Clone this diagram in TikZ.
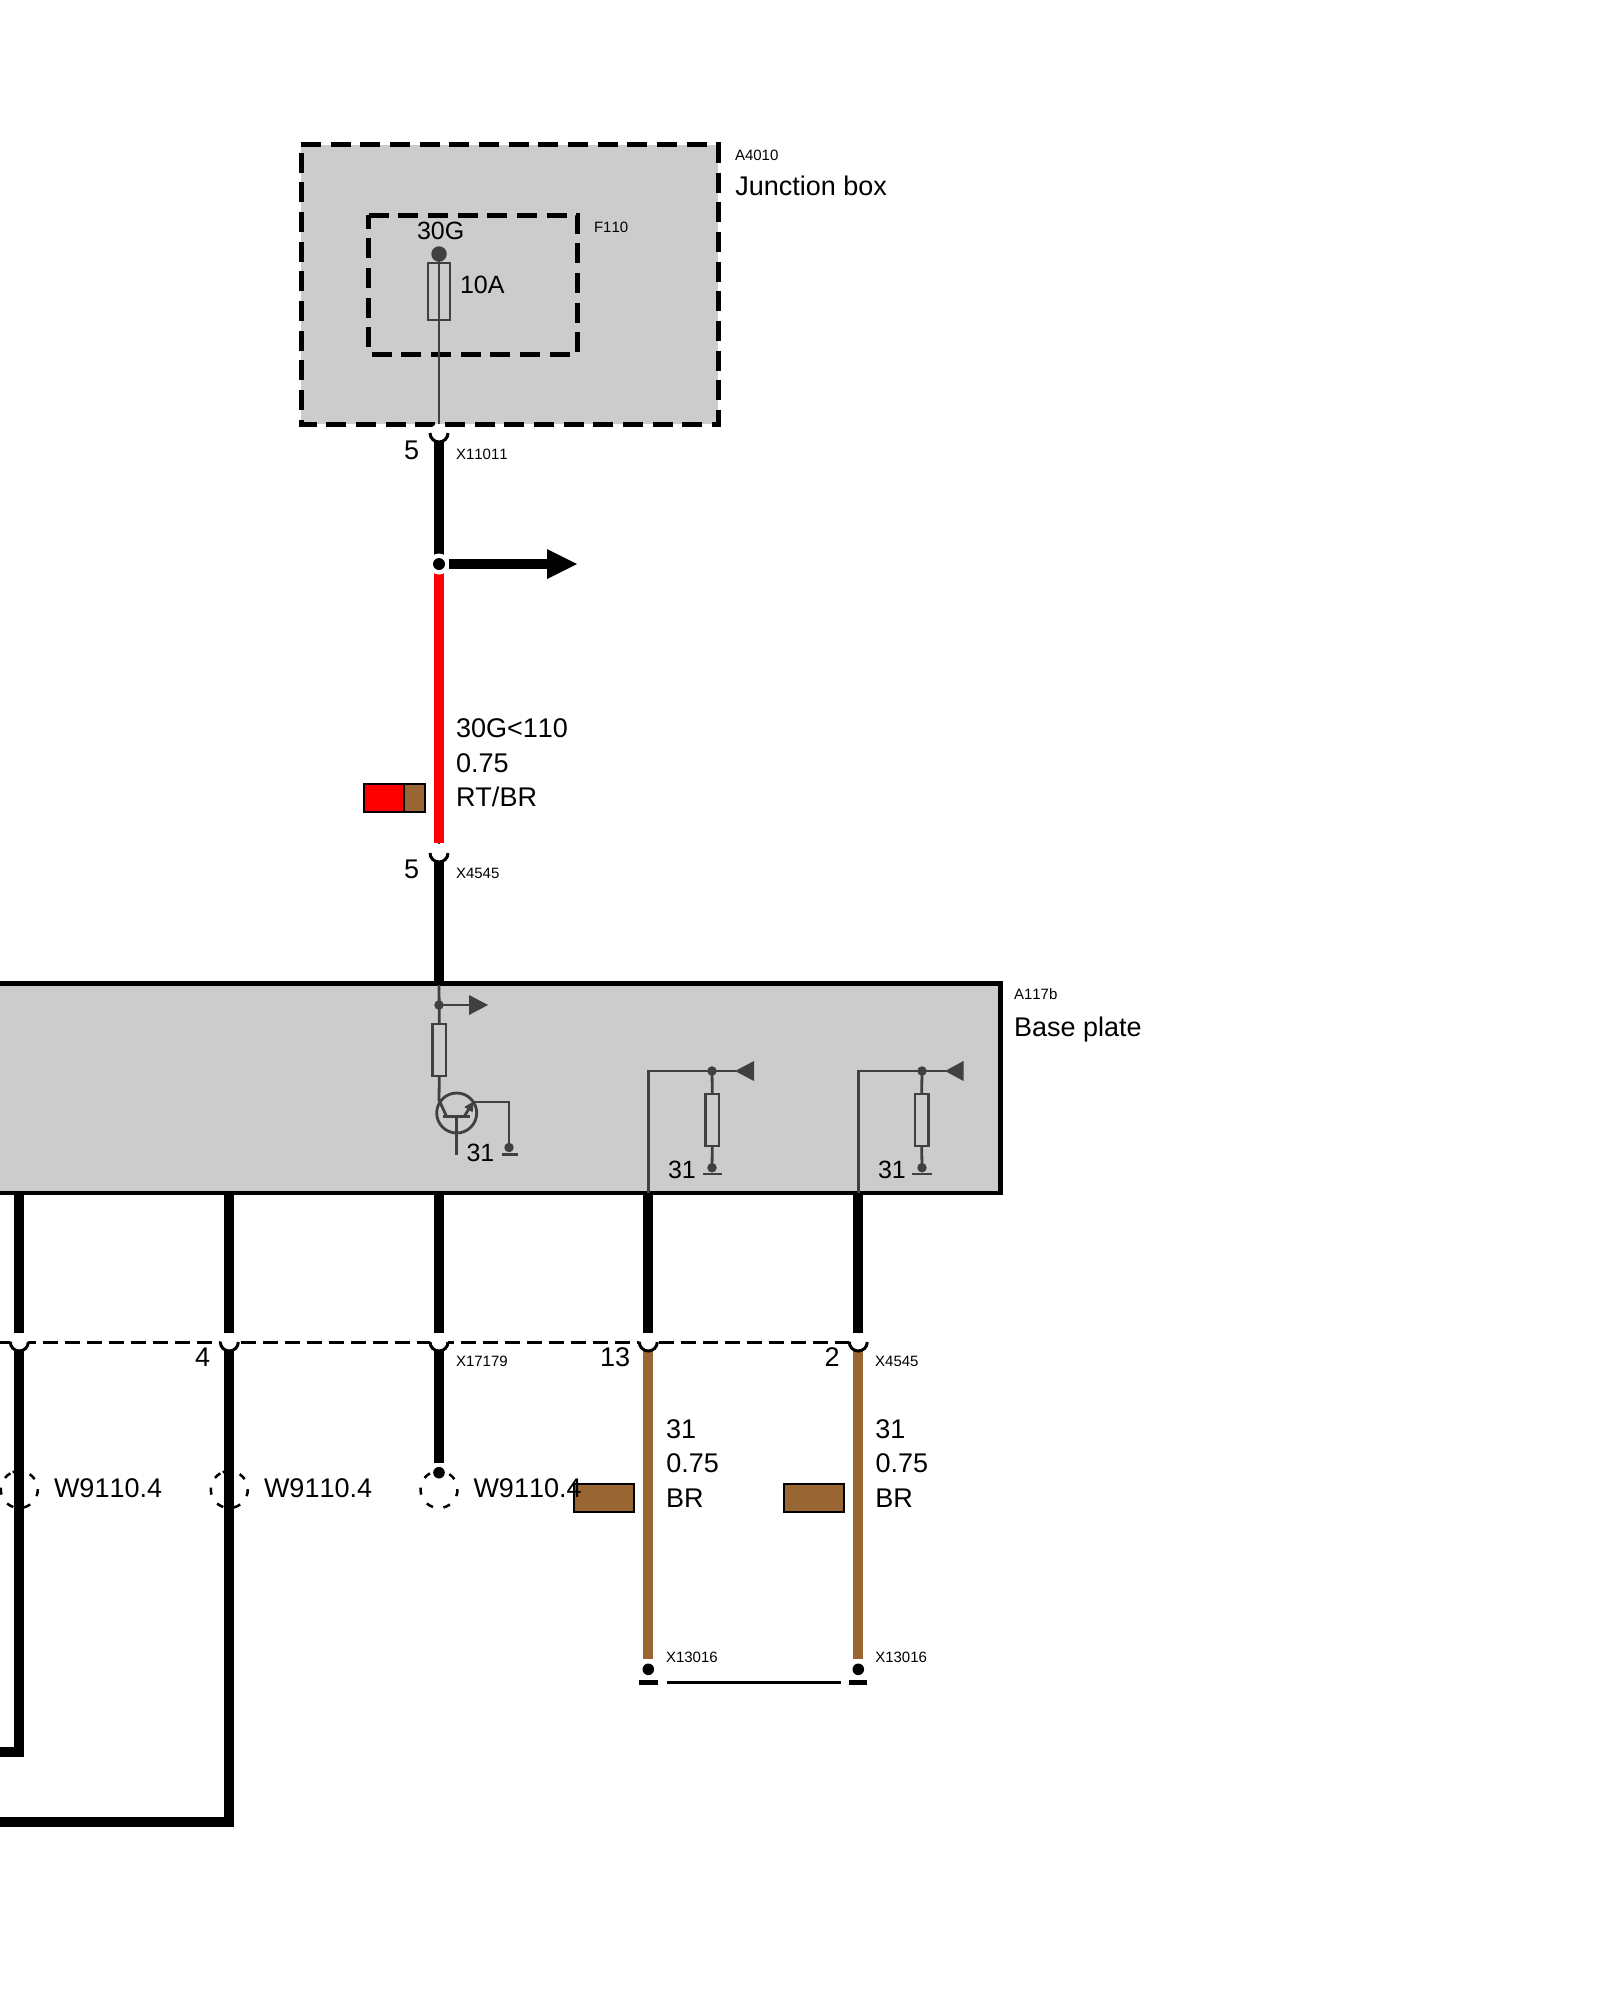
\documentclass[tikz,border=0pt]{standalone}
\usepackage{fontspec}
\setmainfont[Kerning=Off]{Liberation Sans}
\usetikzlibrary{arrows.meta,calc}
\definecolor{boxgray}{HTML}{CCCCCC}
\definecolor{sym}{HTML}{404040}
\definecolor{wirebrown}{HTML}{996633}
\definecolor{wirered}{HTML}{FF0000}
\tikzset{
  lbl/.style={inner sep=0pt,outer sep=0pt,anchor=base west,text=black,font=\fontsize{27}{27}\selectfont},
  small/.style={inner sep=0pt,outer sep=0pt,anchor=base west,text=black,font=\fontsize{15}{15}\selectfont},
  fuselbl/.style={inner sep=0pt,outer sep=0pt,anchor=base west,text=black,font=\fontsize{25}{25}\selectfont},
  unitbox/.style={rectangle,fill=boxgray,draw=black,line width=4.5pt,inner sep=0pt,outer sep=0pt},
  areabox/.style={rectangle,inner sep=0pt,outer sep=0pt},
  dashline/.style={draw=black,line width=5pt,dash pattern=on 20pt off 9.67pt},
  res/.style={rectangle,draw=sym,line width=2.8pt,inner sep=0pt,outer sep=0pt},
  dotsym/.style={circle,fill=sym,inner sep=0pt,outer sep=0pt,minimum size=9.5pt},
  termdot/.style={circle,fill=black,inner sep=0pt,outer sep=0pt,minimum size=11.6pt},
  thin wire/.style={draw=sym,line width=2.8pt},
  wireb/.style={draw=black,line width=10pt},
  wirer/.style={draw=wirered,line width=10pt},
  wirebr/.style={draw=wirebrown,line width=10pt},
  swatch/.style={rectangle,draw=black,line width=2.5pt,inner sep=0pt,outer sep=0pt},
  gbar/.style={draw=sym,line width=2.8pt},
}
\newcommand{\cupsym}[3]{%
  \coordinate (#1) at (#2,#3);
  \fill[white] (#2,#3) circle (9pt);
  \draw[black,line width=3pt] ($(#2,#3)+(-9,0)$) arc[start angle=180,end angle=360,radius=9pt];
}
\newcommand{\shieldcirc}[2]{%
  \coordinate (#1) at (#2,1489.5);
  \foreach \a in {130,185,240,295,350,45,100}{
    \draw[black,line width=2.5pt] ($(#2,1489.5)+(\a-11:18.5pt)$) arc[start angle=\a-11,end angle=\a+11,radius=18.5pt];
  }
}
\begin{document}
\begin{tikzpicture}[x=1pt,y=-1pt]
\path[use as bounding box,clip] (0,0) rectangle (1600,2000);

% --- units
\node[unitbox,draw=none,minimum width=417pt,minimum height=279.5pt] (jbox) at (509.5,284.25) {};
\draw[dashline] (jbox.north west) -- (jbox.north east) -- (jbox.south east) -- (jbox.south west) -- cycle;
\node[areabox,minimum width=209pt,minimum height=139pt] (fbox) at (473.2,284.5) {};
\draw[dashline] (fbox.north west) -- (fbox.north east) -- (fbox.south east) -- (fbox.south west) -- cycle;
\node[unitbox,minimum width=1040.7pt,minimum height=209.5pt] (plate) at (480.35,1088.25) {};

% --- coordinates
\coordinate (j1) at (439,564);
\coordinate (platetop) at (439,983);

% --- fuse
\node[circle,fill=sym,inner sep=0pt,minimum size=15.5pt] (fusedot) at (439,254) {};
\node[res,minimum width=22pt,minimum height=57pt] (fuse) at (439,291.5) {};
\draw[thin wire] (fusedot.center) -- (439,431);

% --- main feed wire
\draw[wireb] (439,442) -- (439,559);
\draw[wirer] (439,573) -- (439,843);
\draw[thin wire] (439,843) -- (439,851);
\draw[wireb] (439,862) -- (platetop);
\cupsym{c1}{439}{433}
\cupsym{c2}{439}{853}

% --- branch
\coordinate (arrowtip) at (577,564);
\node[circle,fill=white,inner sep=0pt,minimum size=21pt] (j1w) at (j1) {};
\node[circle,fill=black,inner sep=0pt,minimum size=12pt] (j1d) at (j1) {};
\draw[wireb] (449,564) -- (547,564);
\fill[black] (547,549) -- (arrowtip) -- (547,579) -- cycle;

% --- colour swatches
\node[swatch,fill=wirered,minimum width=61pt,minimum height=28pt] (sw1) at (394.5,798) {};
\node[swatch,fill=wirebrown,minimum width=21pt,minimum height=28pt] (sw1b) at (414.5,798) {};
\node[swatch,fill=wirebrown,minimum width=60pt,minimum height=28pt] (sw2) at (604,1498) {};
\node[swatch,fill=wirebrown,minimum width=60pt,minimum height=28pt] (sw3) at (814,1498) {};

% --- plate internals: output circuit
\node[dotsym] (d1) at (439,1005) {};
\node[res,minimum width=13.5pt,minimum height=52pt] (r1) at (439.3,1050) {};
\draw[thin wire] (439,985) -- (r1.north);
\draw[thin wire] (d1.center) -- (469,1005);
\fill[sym] (469,995) -- (488,1005) -- (469,1015) -- cycle;
\node[circle,draw=sym,line width=2.8pt,minimum size=40pt,inner sep=0pt] (t1) at (456.7,1113) {};
\draw[thin wire] (r1.south) -- (439,1100) -- (446.7,1116.7);
\draw[thin wire] (443,1116.7) -- (470,1116.7);
\draw[thin wire] (456.7,1116.7) -- (456.7,1155);
\draw[thin wire,-{Triangle[length=10pt,width=9pt]}] (464,1116.7) -- (473.8,1101.2);
\node[dotsym] (g1) at (509,1147.5) {};
\draw[thin wire] (473,1102) -- (509,1102) -- (g1.center);
\draw[gbar] (501.7,1154.3) -- (517.7,1154.3);

% --- plate internals: two sense circuits
\node[dotsym] (d2) at (712,1071) {};
\node[res,minimum width=13.5pt,minimum height=52pt] (r2) at (712.3,1120) {};
\node[dotsym] (g2) at (712,1167.7) {};
\draw[thin wire] (648.3,1193) -- (648.3,1071) -- (736,1071);
\fill[sym] (735,1071) -- (754,1061) -- (754,1081) -- cycle;
\draw[thin wire] (d2.center) -- (r2.north);
\draw[thin wire] (r2.south) -- (g2.center);
\draw[gbar] (703,1174) -- (721.7,1174);

\node[dotsym] (d3) at (922,1071) {};
\node[res,minimum width=13.5pt,minimum height=52pt] (r3) at (921.7,1120) {};
\node[dotsym] (g3) at (922,1167.7) {};
\draw[thin wire] (858.3,1193) -- (858.3,1071) -- (946,1071);
\fill[sym] (945,1071) -- (963.5,1061) -- (963.5,1081) -- cycle;
\draw[thin wire] (d3.center) -- (r3.north);
\draw[thin wire] (r3.south) -- (g3.center);
\draw[gbar] (912,1174) -- (931.7,1174);

% --- dashed connector housing
\draw[black,line width=3pt,dash pattern=on 14.5pt off 7.5pt,dash phase=1pt] (0,1342.3) -- (858.3,1342.3);

% --- dashed shield circles
\shieldcirc{s1}{19.3}
\shieldcirc{s2}{229.3}
\shieldcirc{s3}{439}

% --- wires below plate
\foreach \x in {19.3,229.3,439,648.3,858.3}{
  \draw[wireb] (\x,1195) -- (\x,1332.7);
  \draw[thin wire] (\x,1332.7) -- (\x,1340);
}
\draw[wireb] (19.3,1350) -- (19.3,1752) -- (-10,1752);
\draw[wireb] (229.3,1350) -- (229.3,1822) -- (-10,1822);
\draw[wireb] (439,1350) -- (439,1463);
\draw[wirebr] (648.3,1350) -- (648.3,1659);
\draw[wirebr] (858.3,1350) -- (858.3,1659);
\cupsym{c3}{19.3}{1342}
\cupsym{c4}{229.3}{1342}
\cupsym{c5}{439}{1342}
\cupsym{c6}{648.3}{1342}
\cupsym{c7}{858.3}{1342}

% --- terminals
\node[circle,fill=white,inner sep=0pt,minimum size=17pt] (e3w) at (439,1472.7) {};
\node[termdot] (e3) at (439,1472.7) {};
\node[termdot] (t6) at (648.3,1669.3) {};
\node[termdot] (t7) at (858.3,1669.3) {};
\fill[black] (639.3,1680) rectangle (657.7,1684.8);
\fill[black] (849.3,1680) rectangle (867.3,1684.8);
\draw[black,line width=2.5pt] (666.7,1682.3) -- (840.7,1682.3);

% --- labels
\node[small] (ta4010) at (735,160) {A4010};
\node[lbl] (tjb) at (735.3,195) {Junction box};
\node[small] (tf110) at (594,232) {F110};
\node[fuselbl] (t30g) at (417,239) {30G};
\node[fuselbl] (t10a) at (460,293) {10A};
\node[lbl] (t5a) at (404,459.5) {5};
\node[small] (tx11011) at (456,459) {X11011};
\node[lbl] (tw1) at (456,737.2) {30G<110};
\node[lbl] (tw2) at (456,772) {0.75};
\node[lbl] (tw3) at (456,806) {RT/BR};
\node[lbl] (t5b) at (404,878) {5};
\node[small] (tx4545a) at (456,878) {X4545};
\node[small] (ta117) at (1014,999.5) {A117b};
\node[lbl] (tbp) at (1014,1036) {Base plate};
\node[fuselbl] (t31a) at (466.5,1161.5) {31};
\node[fuselbl] (t31b) at (668,1178.5) {31};
\node[fuselbl] (t31c) at (878,1178.5) {31};
\node[lbl] (t4) at (195,1366.8) {4};
\node[small] (tx17179) at (456,1366) {X17179};
\node[lbl] (t13) at (600,1366.8) {13};
\node[lbl] (t2) at (824.5,1366.8) {2};
\node[small] (tx4545b) at (875.2,1366) {X4545};
\node[lbl] (tsa) at (54,1497) {W9110.4};
\node[lbl] (tsb) at (264,1497) {W9110.4};
\node[lbl] (tsc) at (473.5,1497) {W9110.4};
\node[lbl] (tb1) at (666,1438) {31};
\node[lbl] (tb2) at (666.3,1472.7) {0.75};
\node[lbl] (tb3) at (666,1507.7) {BR};
\node[lbl] (tc1) at (875.3,1438) {31};
\node[lbl] (tc2) at (875.5,1472.7) {0.75};
\node[lbl] (tc3) at (875.3,1507.7) {BR};
\node[small] (tx1) at (666,1662.5) {X13016};
\node[small] (tx2) at (875.3,1662.5) {X13016};
\end{tikzpicture}
\end{document}
